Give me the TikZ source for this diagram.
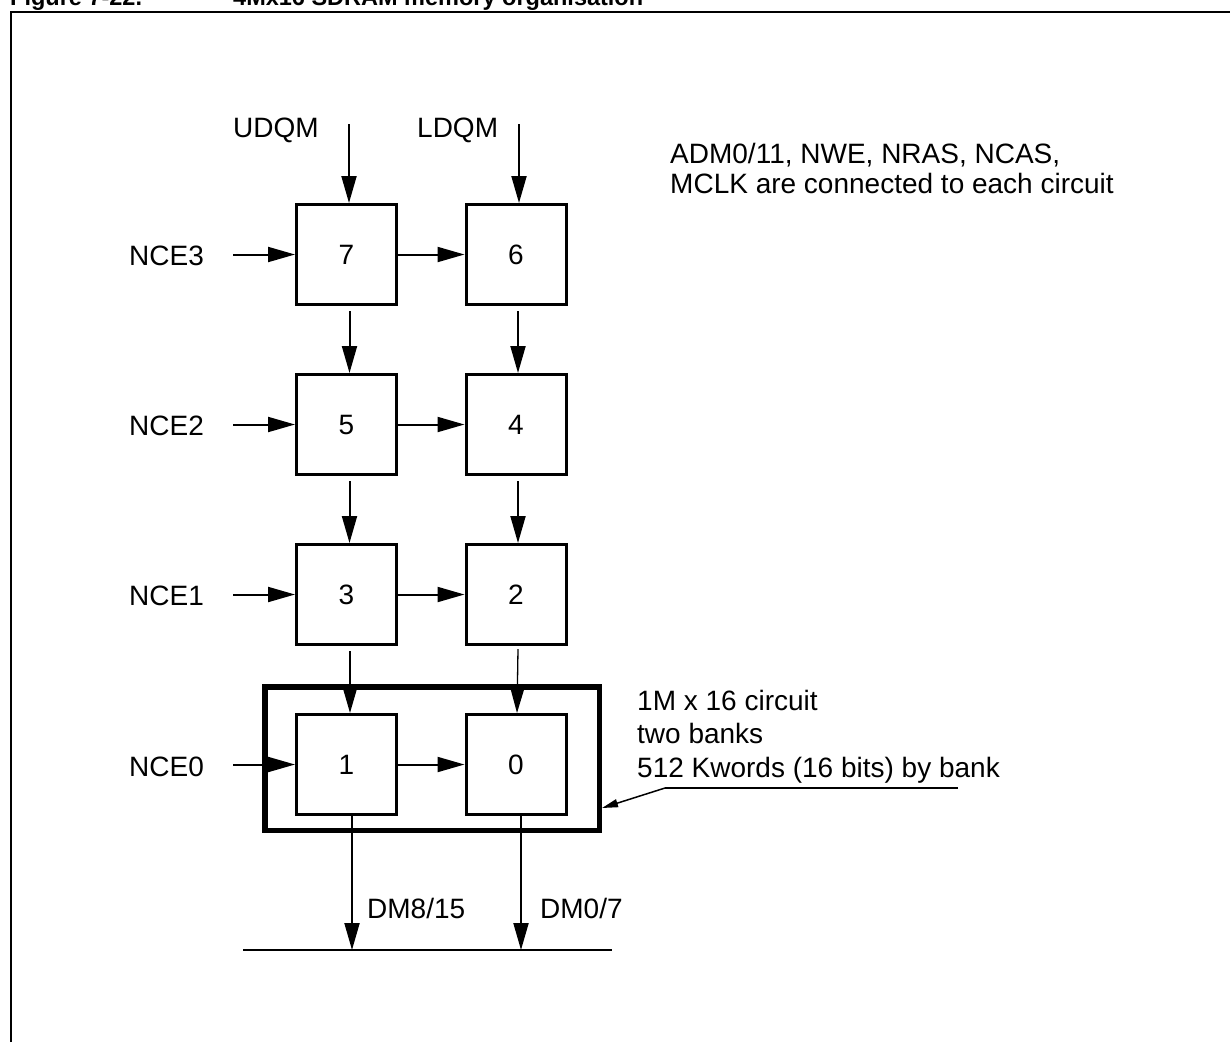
\documentclass[tikz,border=0pt]{standalone}
\usepackage{fontspec}
\setmainfont{Liberation Sans}
\usetikzlibrary{arrows.meta,calc}
\begin{document}
\begin{tikzpicture}[x=1pt,y=-1pt,
  chip/.style={draw, line width=3pt, minimum size=100pt, inner sep=0pt, font=\fontsize{28}{33}\selectfont},
  lbl/.style={font=\fontsize{28}{33}\selectfont, inner sep=0pt, anchor=base west},
  ttl/.style={font=\fontsize{23.5}{28}\selectfont\bfseries, inner sep=0pt, anchor=base west},
  arr/.style={line width=2pt, -{Triangle[length=27pt,width=15pt]}},
  sarr/.style={line width=1.5pt, -{Triangle[length=16pt,width=8pt]}},
  plain/.style={line width=2pt}]
\useasboundingbox (0,0) rectangle (1230,1042);
% clipped caption
\begin{scope}
\clip (0,0) rectangle (1230,1042);
\node[ttl] (t1) at (10,5) {Figure 7-22.};
\node[ttl] (t2) at (233,5) {4Mx16 SDRAM memory organisation};
\end{scope}
% frame
\coordinate (fA) at (11,1042);
\coordinate (fB) at (11,12);
\coordinate (fC) at (1230,12);
\draw[line width=2.3pt] (fA) -- (fB) -- (fC);
% circuit frame
\node[draw, line width=5.5pt, minimum width=334.5pt, minimum height=143.5pt, inner sep=0pt] (circ) at (432,758.5) {};
% chips
\node[chip] (b7) at (346.5,254.5) {7};
\node[chip] (b6) at (516,254.5) {6};
\node[chip] (b5) at (346.5,424.5) {5};
\node[chip] (b4) at (516,424.5) {4};
\node[chip] (b3) at (346.5,594.5) {3};
\node[chip] (b2) at (516,594.5) {2};
\node[chip] (b1) at (346.5,764.5) {1};
\node[chip] (b0) at (516,764.5) {0};
% labels
\node[lbl] (udqm) at (233,137) {UDQM};
\node[lbl] (ldqm) at (417,137) {LDQM};
\node[lbl] (nce3) at (129,265) {NCE3};
\node[lbl] (nce2) at (129,435) {NCE2};
\node[lbl] (nce1) at (129,605) {NCE1};
\node[lbl] (nce0) at (129,776) {NCE0};
\node[lbl] (adm1) at (670,163) {ADM0/11, NWE, NRAS, NCAS,};
\node[lbl] (adm2) at (670,193) {MCLK are connected to each circuit};
\node[lbl] (c1) at (637,710) {1M x 16 circuit};
\node[lbl] (c2) at (637,743) {two banks};
\node[lbl] (c3) at (637,777) {512 Kwords (16 bits) by bank};
\node[lbl] (dm1) at (367,918) {DM8/15};
\node[lbl] (dm0) at (540,918) {DM0/7};
% top inputs
\coordinate (us) at (349,124);
\coordinate (ls) at (519,124);
\draw[arr] (us) -- (us |- b7.north);
\draw[arr] (ls) -- (ls |- b6.north);
% NCE inputs
\coordinate (n3) at (233,254.5);
\coordinate (n2) at (233,424.5);
\coordinate (n1) at (233,594.5);
\coordinate (n0) at (233,764.5);
\draw[arr] (n3) -- (b7);
\draw[arr] (n2) -- (b5);
\draw[arr] (n1) -- (b3);
\draw[arr] (n0) -- (b1);
% horizontal between columns
\draw[arr] (b7) -- (b6);
\draw[arr] (b5) -- (b4);
\draw[arr] (b3) -- (b2);
\draw[arr] (b1) -- (b0);
% vertical between rows
\draw[arr] ($(b7.south)+(3,5)$) -- ($(b5.north)+(3,0)$);
\draw[arr] ($(b6.south)+(2,5)$) -- ($(b4.north)+(2,0)$);
\draw[arr] ($(b5.south)+(3,5)$) -- ($(b3.north)+(3,0)$);
\draw[arr] ($(b4.south)+(2,5)$) -- ($(b2.north)+(2,0)$);
\draw[arr] ($(b3.south)+(3.5,5)$) -- ($(b1.north)+(3.5,0)$);
\draw[arr, line width=1.3pt] ($(b2.south)+(2,3)$) -- ($(b0.north)+(1,0)$);
% data bus
\coordinate (busL) at (243,950);
\coordinate (busR) at (612,950);
\coordinate (d1) at (352,950);
\coordinate (d0) at (521,950);
\draw[plain] (busL) -- (busR);
\draw[arr] (b1.south -| d1) -- (d1);
\draw[arr] (b0.south -| d0) -- (d0);
% annotation
\coordinate (annL) at (665,788);
\coordinate (annR) at (958,788);
\draw[line width=1.5pt] (annR) -- (annL);
\draw[sarr] (annL) -- ($(circ.east)+(0,49.5)$);
\end{tikzpicture}
\end{document}
